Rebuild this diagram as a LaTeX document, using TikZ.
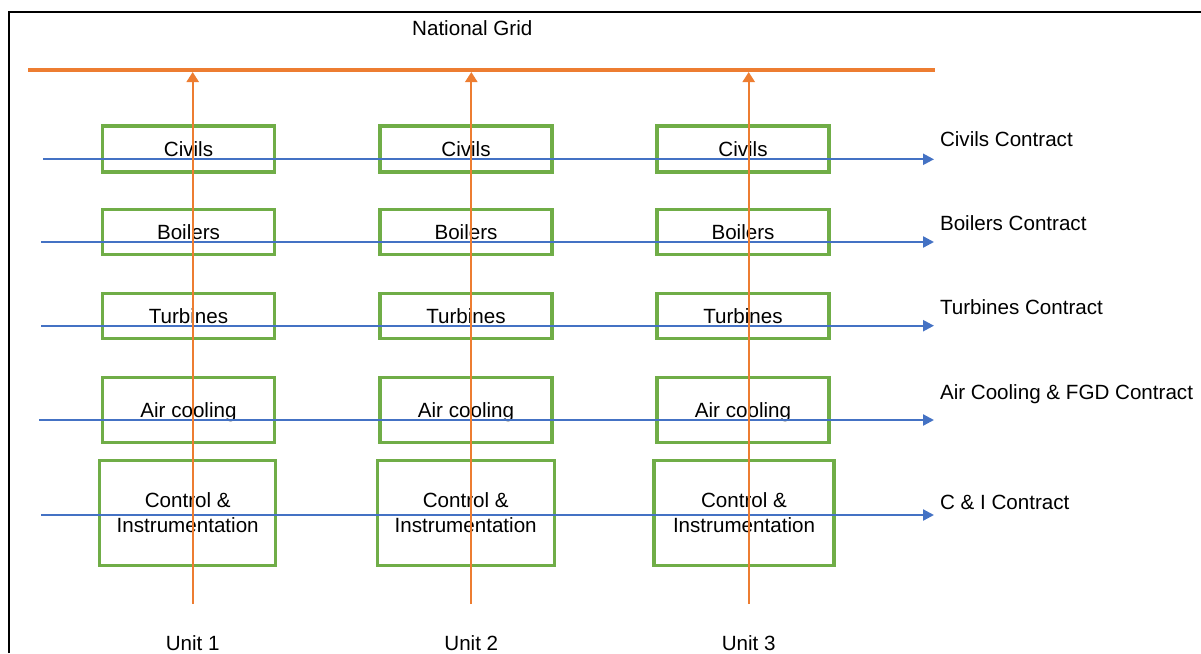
\documentclass[tikz,border=0pt]{standalone}
\usepackage{fontspec}
\setmainfont{Liberation Sans}
\usetikzlibrary{arrows.meta}
\definecolor{gridorange}{HTML}{ED7D31}
\definecolor{contractblue}{HTML}{4472C4}
\definecolor{unitgreen}{HTML}{70AD47}

\begin{document}
\begin{tikzpicture}[x=1pt,y=-1pt,
  every node/.style={font=\fontsize{20.6}{25}\selectfont, inner sep=0pt, outer sep=0pt},
  unitbox/.style={draw=unitgreen, line width=3.2pt, minimum width=172pt, minimum height=#1},
  oneline/.style={text height=14.8pt, text depth=0pt},
  twoline/.style={align=center},
  contract/.style={draw=contractblue, line width=2.3pt, -{Triangle[length=11pt,width=11pt]}},
  feed/.style={draw=gridorange, line width=2.3pt, -{Triangle[length=10pt,width=12pt]}},
  busbar/.style={draw=gridorange, line width=4.4pt},
  frameline/.style={draw=black, line width=2.4pt},
]
\useasboundingbox (0,0) rectangle (1201,653);

% outer frame (left and top edges)
\draw[frameline] (8.7,653) -- (8.7,12) -- (1201,12);

% national grid busbar
\node[anchor=base] (grid) at (472.3,35) {National Grid};
\coordinate (busL) at (28,69.7);
\coordinate (busR) at (935,69.7);
\draw[busbar] (busL) -- (busR);

% equipment boxes, one column per unit
\foreach \c/\x/\xc/\wc in {1/188.5/187.7/176, 2/466/465.7/177, 3/743/744/180} {
  \node[unitbox=46pt, oneline] (civ\c) at (\x,149) {Civils};
  \node[unitbox=45pt, oneline] (boi\c) at (\x,232) {Boilers};
  \node[unitbox=45pt, oneline] (tur\c) at (\x,316) {Turbines};
  \node[unitbox=65pt, oneline] (air\c) at (\x,410) {Air cooling};
  \node[unitbox=105pt, minimum width=\wc pt, twoline] (ci\c) at (\xc,513) {Control \&\\Instrumentation};
}

% contract labels
\node[anchor=base west] (kciv) at (940,146.7) {Civils Contract};
\node[anchor=base west] (kboi) at (940,230.7) {Boilers Contract};
\node[anchor=base west] (ktur) at (940,314.3) {Turbines Contract};
\node[anchor=base west] (kair) at (940,399.3) {Air Cooling \& FGD Contract};
\node[anchor=base west] (kci)  at (940,509.3) {C \& I Contract};

% contract arrows across the units
\coordinate (sciv) at (43.3,159.3);  \coordinate (eciv) at (934,159.3);
\coordinate (sboi) at (41,242);      \coordinate (eboi) at (934,242);
\coordinate (stur) at (41,325.7);    \coordinate (etur) at (934,325.7);
\coordinate (sair) at (39,420);      \coordinate (eair) at (934,420);
\coordinate (sci)  at (41,515);      \coordinate (eci)  at (934,515);
\draw[contract] (sciv) -- (eciv);
\draw[contract] (sboi) -- (eboi);
\draw[contract] (stur) -- (etur);
\draw[contract] (sair) -- (eair);
\draw[contract] (sci)  -- (eci);

% unit feeders up to the grid
\foreach \u/\x in {1/192.7, 2/471.3, 3/748.7} {
  \node[anchor=base] (unit\u) at (\x,650) {Unit \u};
  \coordinate (ub\u) at (\x,604);
  \coordinate (ut\u) at (\x,72);
  \draw[feed] (ub\u) -- (ut\u);
}
\end{tikzpicture}
\end{document}
